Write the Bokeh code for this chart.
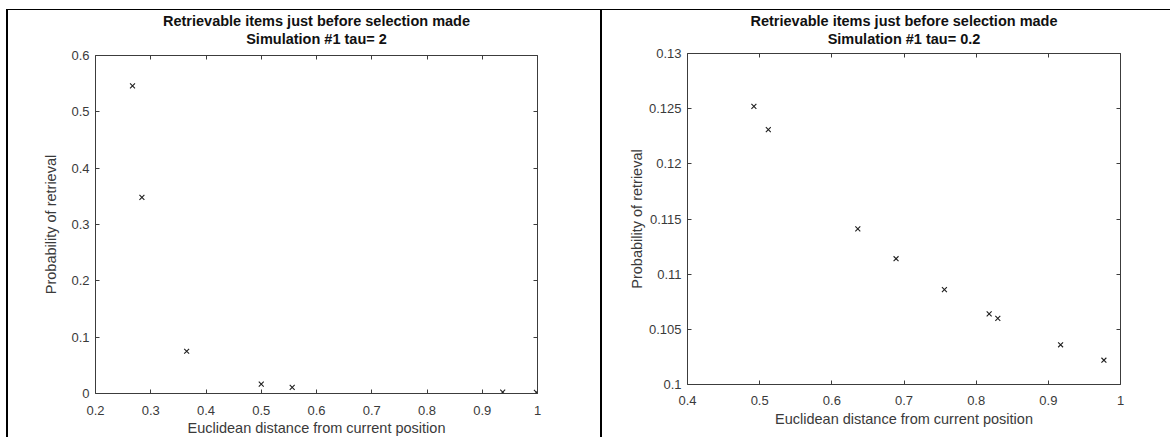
from bokeh.plotting import figure
from bokeh.models import Range1d, LinearAxis, FixedTicker, Title, ColumnDataSource, Spacer
from bokeh.layouts import row, column
from bokeh.embed import file_html
from bokeh.resources import INLINE

# ---------------- data ----------------
title_line1 = "Retrievable items just before selection made"
title_line2_left = "Simulation #1 tau= 2"
title_line2_right = "Simulation #1 tau= 0.2"
x_label = "Euclidean distance from current position"
y_label = "Probability of retrieval"

dist_tau2 = [0.267, 0.284, 0.365, 0.500, 0.556, 0.937, 0.998]
prob_tau2 = [0.546, 0.348, 0.075, 0.0165, 0.011, 0.0023, 0.002]

dist_tau02 = [0.492, 0.512, 0.636, 0.689, 0.756, 0.818, 0.830, 0.917, 0.977]
prob_tau02 = [0.1252, 0.1231, 0.1141, 0.1114, 0.1086, 0.1064, 0.1060, 0.1036, 0.1022]

xticks_left = [0.2, 0.3, 0.4, 0.5, 0.6, 0.7, 0.8, 0.9, 1]
xtick_labels_left = ["0.2", "0.3", "0.4", "0.5", "0.6", "0.7", "0.8", "0.9", "1"]
yticks_left = [0, 0.1, 0.2, 0.3, 0.4, 0.5, 0.6]
ytick_labels_left = ["0", "0.1", "0.2", "0.3", "0.4", "0.5", "0.6"]

xticks_right = [0.4, 0.5, 0.6, 0.7, 0.8, 0.9, 1]
xtick_labels_right = ["0.4", "0.5", "0.6", "0.7", "0.8", "0.9", "1"]
yticks_right = [0.1, 0.105, 0.11, 0.115, 0.12, 0.125, 0.13]
ytick_labels_right = ["0.1", "0.105", "0.11", "0.115", "0.12", "0.125", "0.13"]

# ---------------- style ----------------
FONT = "Liberation Sans"
AXIS_COLOR = "#3c3c3c"
TEXT_COLOR = "#3a3a3a"
TICK_FS = "13px"
LABEL_FS = "14.5px"
TITLE_FS = "14.5px"


def style_axis(ax, ticks, labels, show_labels=True):
    ax.ticker = FixedTicker(ticks=ticks)
    ax.axis_line_color = AXIS_COLOR
    ax.axis_line_width = 1
    ax.major_tick_line_color = AXIS_COLOR
    ax.major_tick_in = 4
    ax.major_tick_out = 0
    ax.minor_tick_in = 0
    ax.minor_tick_out = 0
    ax.major_label_text_font = FONT
    if show_labels:
        ax.major_label_overrides = {t: l for t, l in zip(ticks, labels)}
        ax.major_label_text_font_size = TICK_FS
        ax.major_label_text_color = TEXT_COLOR
    else:
        # mirrored ticks only (MATLAB box): labels are not drawn
        ax.major_label_text_font_size = "0px"
        ax.major_label_text_color = None
        ax.major_label_standoff = 0
    ax.axis_label_text_font = FONT
    ax.axis_label_text_font_size = LABEL_FS
    ax.axis_label_text_font_style = "normal"
    ax.axis_label_text_color = TEXT_COLOR


def make_panel(xs, ys, xr, yr, xt, xtl, yt, ytl, line2, width, height,
               mb_left, mb_right, mb_top, mb_bottom,
               x_std, x_lbl_std, y_std, y_lbl_std, title_pad):
    p = figure(width=width, height=height, x_range=Range1d(*xr), y_range=Range1d(*yr),
               output_backend="svg", toolbar_location=None,
               min_border_left=mb_left, min_border_right=mb_right,
               min_border_top=mb_top, min_border_bottom=mb_bottom,
               background_fill_color="white", border_fill_color="white")
    p.outline_line_color = None
    p.xgrid.visible = False
    p.ygrid.visible = False
    p.title.visible = False

    style_axis(p.xaxis[0], xt, xtl)
    style_axis(p.yaxis[0], yt, ytl)
    p.xaxis[0].axis_label = x_label
    p.yaxis[0].axis_label = y_label
    p.xaxis[0].major_label_standoff = x_std
    p.xaxis[0].axis_label_standoff = x_lbl_std
    p.yaxis[0].major_label_standoff = y_std
    p.yaxis[0].axis_label_standoff = y_lbl_std

    top = LinearAxis()
    style_axis(top, xt, xtl, show_labels=False)
    p.add_layout(top, "above")
    right = LinearAxis()
    style_axis(right, yt, ytl, show_labels=False)
    p.add_layout(right, "right")

    t2 = Title(text=line2, align="center", text_font=FONT, text_font_size=TITLE_FS,
               text_font_style="bold", text_color="#111111", standoff=0)
    try:
        t2.padding = dict(left=0, right=0, top=0, bottom=title_pad)
    except Exception:
        t2.standoff = title_pad
    p.add_layout(t2, "above")
    p.add_layout(Title(text=title_line1, align="center", text_font=FONT, text_font_size=TITLE_FS,
                       text_font_style="bold", text_color="#111111", standoff=0), "above")

    src = ColumnDataSource(dict(x=xs, y=ys))
    p.scatter("x", "y", source=src, marker="x", size=7, line_color="#1f1f1f", line_width=1.1)
    return p


p1 = make_panel(dist_tau2, prob_tau2, (0.2, 1), (0, 0.6),
                xticks_left, xtick_labels_left, yticks_left, ytick_labels_left,
                title_line2_left, width=594, height=428,
                mb_left=87, mb_right=65, mb_top=45, mb_bottom=44,
                x_std=12, x_lbl_std=2, y_std=6, y_lbl_std=9, title_pad=9)
p1.styles = {"border-left": "2px solid black", "border-top": "1px solid black"}

p2 = make_panel(dist_tau02, prob_tau02, (0.4, 1), (0.1, 0.13),
                xticks_right, xtick_labels_right, yticks_right, ytick_labels_right,
                title_line2_right, width=570, height=428,
                mb_left=85, mb_right=52, mb_top=43, mb_bottom=54,
                x_std=11, x_lbl_std=3, y_std=6, y_lbl_std=1, title_pad=7)
p2.styles = {"border-left": "2px solid black", "border-top": "1px solid black"}

layout = column(Spacer(height=9, width=1170),
                row(Spacer(width=6, height=429), column(p1), column(p2)))

open("out.html", "w").write(file_html(layout, INLINE))
